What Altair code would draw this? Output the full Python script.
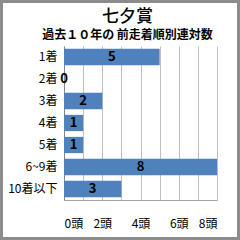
import altair as alt
import pandas as pd

categories = ["1着", "2着", "3着", "4着", "5着", "6~9着", "10着以下"]
counts = [5, 0, 2, 1, 1, 8, 3]
x_ticks = [0, 1, 2, 3, 4, 5, 6, 7, 8]
title_text = "七夕賞"
subtitle_text = "過去１０年の 前走着順別連対数"

df = pd.DataFrame({"cat": categories, "n": counts})
df["mid"] = df["n"] / 2

font = "Noto Sans CJK JP"
xscale = alt.Scale(domain=[0, 8], nice=False)
yscale = alt.Scale(paddingInner=0.26, paddingOuter=0.13)
xaxis = alt.Axis(values=x_ticks,
                 labelExpr="datum.value % 2 == 0 ? datum.value + '頭' : ''",
                 labelOverlap=False,
                 grid=True, gridColor="#BFBFBF", gridOpacity=1, gridWidth=1,
                 ticks=False, domainColor="#A6A6A6",
                 labelPadding=18, labelFontSize=12, labelFont=font, labelColor="black")
yaxis = alt.Axis(labelFontSize=12, labelPadding=7, ticks=False, domainColor="#868686",
                 labelColor="black", labelFont=font, grid=False)

bars = alt.Chart(df).mark_bar(color="#4F81BD").encode(
    x=alt.X("n:Q", scale=xscale, title=None, axis=xaxis),
    y=alt.Y("cat:N", sort=categories, title=None, scale=yscale, axis=yaxis),
)

labels = alt.Chart(df).mark_text(fontSize=13, fontWeight="bold", color="black", font=font).encode(
    x=alt.X("mid:Q", scale=xscale, title=None, axis=xaxis),
    y=alt.Y("cat:N", sort=categories, title=None, scale=yscale, axis=yaxis),
    text="n:Q",
)

frame = alt.Chart(pd.DataFrame({"a": [0]})).mark_rect(
    fill=None, stroke="#8C8C8C", strokeWidth=3, clip=False
).encode(
    x=alt.value(-62.5), x2=alt.value(174.5), y=alt.value(-44.5), y2=alt.value(192.5)
)

chart = alt.layer(bars, labels, frame).properties(
    width=153, height=154,
    title=alt.TitleParams(text=title_text, subtitle=subtitle_text, anchor="middle", dx=-13, dy=46,
                          fontSize=17, font=font, fontWeight=500, color="black",
                          subtitleFontSize=12, subtitleFont=font, subtitleFontWeight="bold",
                          subtitleColor="black", subtitlePadding=4, offset=4),
    autosize=alt.AutoSizeParams(type="none"),
    padding={"left": 64, "top": 46, "right": 23, "bottom": 40},
    background="white",
).configure_view(stroke=None)

chart.save("out.html", embed_options={"renderer": "svg", "actions": False})
